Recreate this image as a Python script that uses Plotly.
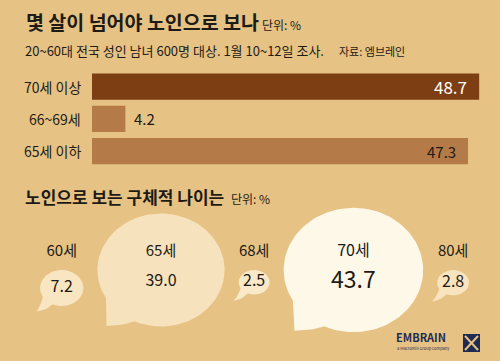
import numpy as np
import plotly.graph_objects as go

# ---------------- data ----------------
bar_categories = ["70세 이상", "66~69세", "65세 이하"]
bar_values = [48.7, 4.2, 47.3]

age_labels = ["60세", "65세", "68세", "70세", "80세"]
age_values = [7.2, 39.0, 2.5, 43.7, 2.8]

title1 = "몇 살이 넘어야 노인으로 보나"
title2 = "노인으로 보는 구체적 나이는"
unit_text = "단위: %"
subtitle = "20~60대 전국 성인 남녀 600명 대상. 1월 10~12일 조사."
source_text = "자료: 엠브레인"

# ---------------- styles ----------------
W, H = 500, 361
BG = "#E6C384"
FONT = "Noto Sans CJK KR"
DARK = "#1E1A16"
bar_colors = ["#7D3E14", "#B47A47", "#B47A47"]
bar_text_colors = ["#FFFFFF", DARK, DARK]
bubble_colors = ["#F8E6C2", "#F6E2BD", "#F9E9C9", "#FEF8E9", "#F8E5C0"]


def px(x):
    return x / W


def py(y):
    return 1 - y / H


fig = go.Figure()

# ---------------- bar chart ----------------
fig.add_trace(go.Bar(
    y=bar_categories, x=bar_values, orientation="h",
    marker=dict(color=bar_colors, line=dict(width=0)),
    width=0.81, xaxis="x", yaxis="y", hoverinfo="skip",
))

annotations = []
for i, (c, v) in enumerate(zip(bar_categories, bar_values)):
    annotations.append(dict(
        x=0, y=c, xref="x", yref="y", text=c, showarrow=False,
        xanchor="right", xshift=-9, font=dict(family=FONT, size=14, color=DARK)))
    inside = v > 10
    annotations.append(dict(
        x=v, y=c, xref="x", yref="y", text=f"{v:.1f}", showarrow=False,
        xanchor="right" if inside else "left", xshift=-10 if inside else 7,
        font=dict(family=FONT, size=17 if i == 0 else 15,
                  color=bar_text_colors[i] if inside else DARK)))

# ---------------- speech bubbles ----------------
vmax = max(age_values)
left = 40.0
gap = 14.0
bub_cx, bub_cy, val_y = [], [], []
for i, v in enumerate(age_values):
    d = 24.5 + 2.632 * v
    rx = d / 2
    ry = (0.92 * d - 4) / 2
    cx = left + rx
    left = cx + rx + gap
    cy = 270 + ry if d < 80 else 270
    bub_cx.append(cx)
    bub_cy.append(cy)
    val_y.append(max(282, cy))

    t = np.radians(np.linspace(150, 475, 120))
    xs = list(cx + rx * np.cos(t))
    ys = list(cy + ry * np.sin(t))
    A = (xs[-1], ys[-1])
    B = (xs[0], ys[0])
    tip = (cx - 0.7 * rx - 10, cy + 0.85 * ry + 8)
    s = np.linspace(0, 1, 12)[1:]
    c1 = (A[0] - 0.35 * (A[0] - tip[0]), tip[1] - 0.15 * (tip[1] - A[1]))
    for u in s:
        xs.append((1 - u) ** 2 * A[0] + 2 * (1 - u) * u * c1[0] + u ** 2 * tip[0])
        ys.append((1 - u) ** 2 * A[1] + 2 * (1 - u) * u * c1[1] + u ** 2 * tip[1])
    c2 = (tip[0] + 0.55 * (B[0] - tip[0]), tip[1] - 0.25 * (tip[1] - B[1]))
    for u in s:
        xs.append((1 - u) ** 2 * tip[0] + 2 * (1 - u) * u * c2[0] + u ** 2 * B[0])
        ys.append((1 - u) ** 2 * tip[1] + 2 * (1 - u) * u * c2[1] + u ** 2 * B[1])
    fig.add_trace(go.Scatter(
        x=xs, y=ys, mode="lines", fill="toself", fillcolor=bubble_colors[i],
        line=dict(width=0, color=bubble_colors[i]), xaxis="x2", yaxis="y2",
        hoverinfo="skip"))

fig.add_trace(go.Scatter(
    x=bub_cx, y=[252] * len(age_labels), mode="text", text=age_labels,
    textfont=dict(family=FONT, size=[16 if v == vmax else 15 for v in age_values], color=DARK),
    xaxis="x2", yaxis="y2", hoverinfo="skip"))
fig.add_trace(go.Scatter(
    x=bub_cx, y=val_y, mode="text", text=[f"{v:.1f}" for v in age_values],
    textfont=dict(family=FONT, size=[23 if v == vmax else 16 for v in age_values], color=DARK),
    xaxis="x2", yaxis="y2", hoverinfo="skip"))

# ---------------- titles ----------------
def txt(x, y, s, size, bold=False, color=DARK, anchor="left"):
    annotations.append(dict(
        x=px(x), y=py(y), xref="paper", yref="paper", showarrow=False,
        text=f"<b>{s}</b>" if bold else s, xanchor=anchor, yanchor="middle",
        font=dict(family=FONT, size=size, color=color)))

txt(24, 22, title1, 19.5, bold=True)
txt(260, 24, unit_text, 12)
txt(23, 50, subtitle, 13)
txt(337, 51, source_text, 11)
txt(23, 196, title2, 17, bold=True)
txt(229, 198, unit_text, 12)

# logo
txt(394, 337, "<b>EMBRAIN</b>", 11, color="#1F2B52")
txt(395, 348, "a Macromill Group company", 4, color="#1F2B52")

shapes = [
    dict(type="rect", xref="paper", yref="paper", x0=px(463), x1=px(480),
         y0=py(352), y1=py(334), fillcolor="#1F2B52", line=dict(width=0)),
    dict(type="line", xref="paper", yref="paper", x0=px(465), x1=px(478),
         y0=py(336), y1=py(350), line=dict(color=BG, width=2)),
    dict(type="line", xref="paper", yref="paper", x0=px(465), x1=px(478),
         y0=py(350), y1=py(336), line=dict(color=BG, width=2)),
]

fig.update_layout(
    width=W, height=H, margin=dict(l=0, r=0, t=0, b=0),
    paper_bgcolor=BG, plot_bgcolor="rgba(0,0,0,0)", showlegend=False,
    hovermode=False, annotations=annotations, shapes=shapes,
    xaxis=dict(domain=[px(92), px(92 + 50 * 7.95)], range=[0, 50], visible=False,
               fixedrange=True),
    yaxis=dict(domain=[py(167.3), py(70.4)], visible=False, fixedrange=True,
               categoryorder="array", categoryarray=bar_categories,
               autorange="reversed"),
    xaxis2=dict(domain=[0, 1], range=[0, W], visible=False, anchor="y2",
                fixedrange=True),
    yaxis2=dict(domain=[0, 1], range=[H, 0], visible=False, anchor="x2",
                fixedrange=True),
)

fig.write_html(
    "out.html",
    config={"displayModeBar": False},
    post_script="document.body.style.margin='0px'; document.body.style.overflow='hidden';",
)
